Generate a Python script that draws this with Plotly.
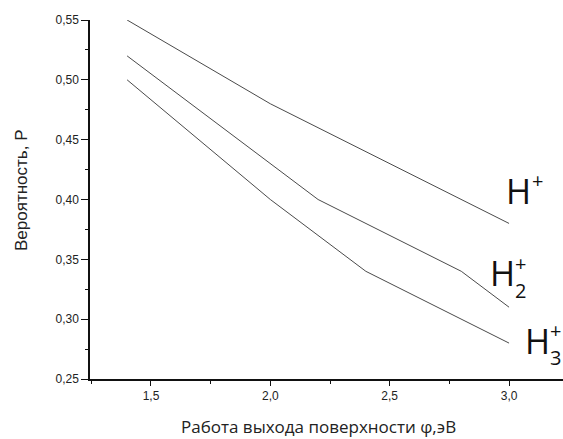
import plotly.graph_objects as go

# Data
h1_x = [1.4, 2.0, 3.0]
h1_y = [0.55, 0.48, 0.38]
h2_x = [1.4, 2.0, 2.2, 2.8, 3.0]
h2_y = [0.52, 0.43, 0.40, 0.34, 0.31]
h3_x = [1.4, 2.0, 2.4, 3.0]
h3_y = [0.50, 0.40, 0.34, 0.28]

x_title = "Работа выхода поверхности φ,эВ"
y_title = "Вероятность, P"

W, H = 563, 439
ML, MR, MT, MB = 90, 0, 20, 60
PW, PH = W - ML - MR, H - MT - MB

line_style = dict(color="#4a4a4a", width=1)

fig = go.Figure()
for xs, ys in [(h1_x, h1_y), (h2_x, h2_y), (h3_x, h3_y)]:
    fig.add_trace(go.Scatter(x=xs, y=ys, mode="lines", line=line_style,
                             showlegend=False, hoverinfo="skip"))

FONT = "Open Sans, Liberation Sans, sans-serif"
ARIAL = "Liberation Sans, Arial, sans-serif"


def px(x, y):
    # page pixel -> paper coordinates
    return (x - ML) / PW, (MT + PH - y) / PH


def label(text, x, y, size, family=FONT, color="#111111", angle=0):
    ax, ay = px(x, y)
    fig.add_annotation(text=text, x=ax, y=ay, xref="paper", yref="paper",
                       showarrow=False, xanchor="center", yanchor="middle",
                       textangle=angle,
                       font=dict(family=family, size=size, color=color))


# H+
label("H", 518, 191, 34)
label("+", 537, 180, 20)
# H2+
label("H", 502, 273, 34)
label("+", 520, 263, 20)
label("2", 520, 290, 20)
# H3+
label("H", 537, 341, 34)
label("+", 555, 330, 20)
label("3", 555, 357, 20)

# axis titles
label(x_title, 318, 426, 17, family=FONT, color="#222222")
label(y_title, 21, 191, 17, family=ARIAL, color="#222222", angle=-90)

fig.update_layout(
    width=W, height=H,
    margin=dict(l=ML, r=MR, t=MT, b=MB, autoexpand=False),
    paper_bgcolor="white", plot_bgcolor="white",
    separators=", ",
    font=dict(family=ARIAL, color="#222222"),
    xaxis=dict(
        range=[1.2445, 3.226], tick0=1.5, dtick=0.5, tickformat=".1f",
        ticks="outside", ticklen=5, tickwidth=1.2, tickcolor="#111",
        showline=True, linecolor="#111", linewidth=1.5,
        showgrid=False, zeroline=False, automargin=False,
        tickfont=dict(family=ARIAL, size=12, color="#222"),
        minor=dict(dtick=0.25, tick0=1.5, ticks="outside", ticklen=3,
                   tickcolor="#111", showgrid=False),
    ),
    yaxis=dict(
        range=[0.25, 0.55], tick0=0.25, dtick=0.05, tickformat=".2f",
        ticks="outside", ticklen=7, tickwidth=1.2, tickcolor="#111",
        showline=True, linecolor="#111", linewidth=1.5,
        showgrid=False, zeroline=False, automargin=False,
        tickfont=dict(family=ARIAL, size=12, color="#222"),
        minor=dict(dtick=0.025, tick0=0.25, ticks="outside", ticklen=3,
                   tickcolor="#111", showgrid=False),
    ),
)

fig.write_html(
    "out.html",
    config={"displayModeBar": False},
    post_script="document.body.style.margin='0';document.body.style.overflow='hidden';"
                "document.documentElement.style.overflow='hidden';",
)
